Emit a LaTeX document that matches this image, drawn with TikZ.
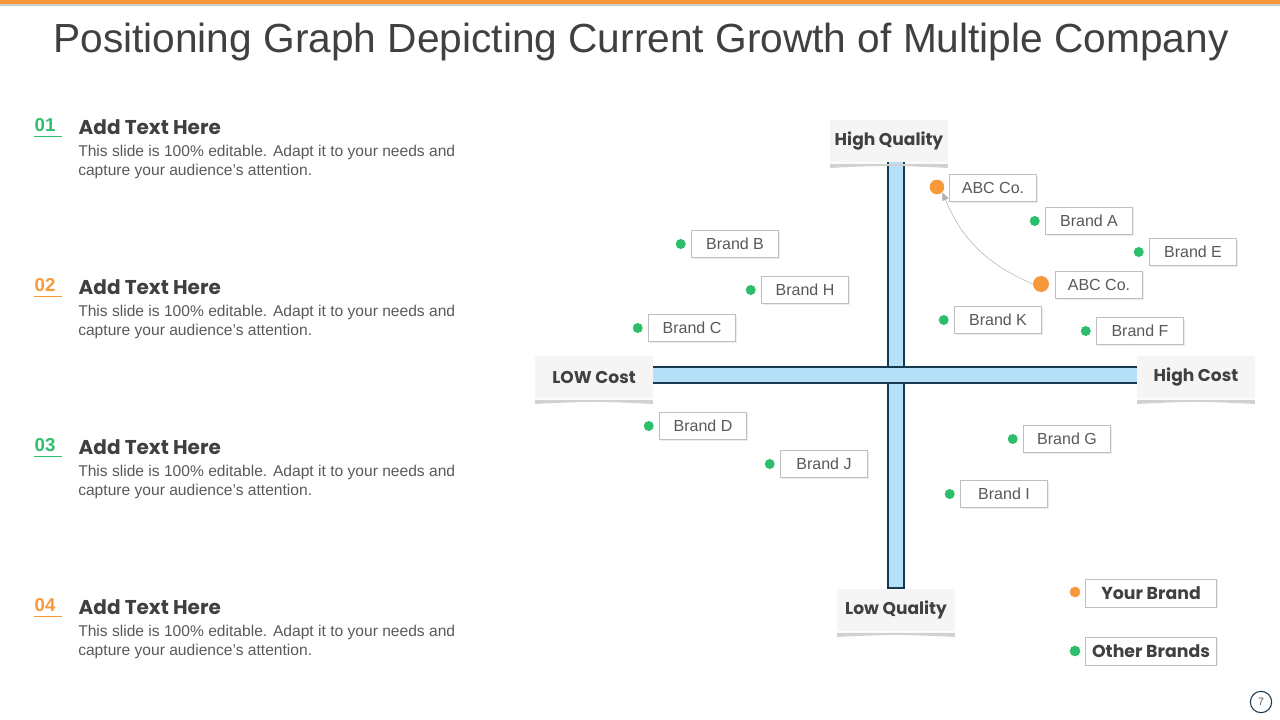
\documentclass[tikz,border=0pt]{standalone}
\usepackage{fontspec}
\setmainfont{Liberation Sans}
\newfontfamily\hd{Poppins}
\usetikzlibrary{arrows.meta,shadows}
\definecolor{gr}{HTML}{2DBE6C}
\definecolor{orn}{HTML}{F7993B}
\definecolor{txt}{HTML}{404040}
\definecolor{bodyc}{HTML}{595959}
\definecolor{axfill}{HTML}{B5E0F7}
\definecolor{axedge}{HTML}{17394F}
\tikzset{
 brandbox/.style={draw=black!25,fill=white,minimum height=20pt,minimum width=65pt,font=\fontsize{12}{14}\selectfont,text=bodyc,inner sep=0pt,drop shadow={shadow xshift=1pt,shadow yshift=-1pt,opacity=0.15}},
 legbox/.style={brandbox,minimum width=98pt,minimum height=21pt,font=\hd\fontsize{13}{15}\selectfont\bfseries,text=txt},
 gdot/.style={circle,fill=gr,inner sep=0pt,minimum size=7.5pt},
 odot/.style={circle,fill=orn,inner sep=0pt,minimum size=11pt},
 axlab/.style={fill=black!4,minimum width=88pt,minimum height=32pt,font=\hd\fontsize{12.8}{15}\selectfont\bfseries,text=txt,inner sep=0pt},
 num/.style={font=\fontsize{14}{16}\selectfont\bfseries,anchor=west},
 head/.style={font=\hd\fontsize{15}{17}\selectfont\bfseries,text=txt,anchor=west},
 body/.style={font=\fontsize{11.7}{14.3}\selectfont,text=bodyc,anchor=north west,align=left,inner sep=0pt}
}
\begin{document}
\begin{tikzpicture}[x=0.75pt,y=-0.75pt]
\useasboundingbox (0,0) rectangle (1280,720);
\fill[orn] (0,0) rectangle (1280,4);
\fill[black!20] (0,4) rectangle (1280,6);
\node[font=\fontsize{30.5}{34}\selectfont,text=txt] (title) at (641,42) {Positioning Graph Depicting Current Growth of Multiple Company};
% left items
\foreach \i/\y/\c in {1/127/gr,2/287/orn,3/447/gr,4/607/orn}{
 \node[num,text=\c] (n\i) at (30,\y-2) {0\i};
 \draw[\c,line width=0.6pt] (n\i.south west)++(3pt,0) -- ++(21pt,0);
 \node[head] (h\i) at (74,\y) {Add Text Here};
 \node[body] (b\i) at (78,\y+18) {This slide is 100\% editable. Adapt it to your needs and\\capture your audience's attention.};
}
% axes
\filldraw[fill=axfill,draw=axedge,line width=1.2pt] (888,160) rectangle (904,588);
\filldraw[fill=axfill,draw=axedge,line width=1.2pt] (652,367) rectangle (1138,383);
\fill[axfill] (889,368) rectangle (903,382);
% axis labels
\foreach \n/\x/\y/\t in {hq/889/141/High Quality,lc/594/377/LOW Cost,hc/1196/377/High Cost,lq/896/610/Low Quality}{
 \node[axlab] (\n) at (\x,\y) {\t};
 \fill[black!18] ([yshift=-1pt]\n.south west) -- ([yshift=-1pt]\n.south east) -- ([yshift=-4pt]\n.south east) .. controls ([yshift=-2pt]\n.south) .. ([yshift=-4pt]\n.south west) -- cycle;
}
% brands
\foreach \n/\x/\y/\t in {bA/1089/221/Brand A,bE/1193/252/Brand E,bK/998/320/Brand K,bF/1140/331/Brand F,bB/735/244/Brand B,bH/805/290/Brand H,bC/692/328/Brand C,bD/703/426/Brand D,bJ/824/464/Brand J,bG/1067/439/Brand G,bI/1004/494/Brand I}{
 \node[brandbox] (\n) at (\x,\y) {\t};
 \node[gdot] (d\n) at ([xshift=-8pt]\n.west) {};
}
\node[brandbox] (abc1) at (993,188) {ABC Co.};
\node[odot] (dabc1) at (937,187) {};
\node[brandbox] (abc2) at (1099,285) {ABC Co.};
\node[odot,minimum size=12pt] (dabc2) at (1041,284) {};
\draw[black!30,-{Triangle[length=6pt,width=5pt]}] (dabc2.west) to[bend left=22] (dabc1.south east);
% legend
\node[legbox] (yb) at (1151,593) {Your Brand};
\node[odot,minimum size=8pt] (dyb) at (1075,592) {};
\node[legbox] (ob) at (1151,651) {Other Brands};
\node[gdot,minimum size=8pt] (dob) at (1075,651) {};
\node[circle,draw=axedge,line width=0.8pt,minimum size=16pt,inner sep=0pt,font=\fontsize{8}{9}\selectfont,text=bodyc] (pg) at (1261,702) {7};
\end{tikzpicture}
\end{document}
